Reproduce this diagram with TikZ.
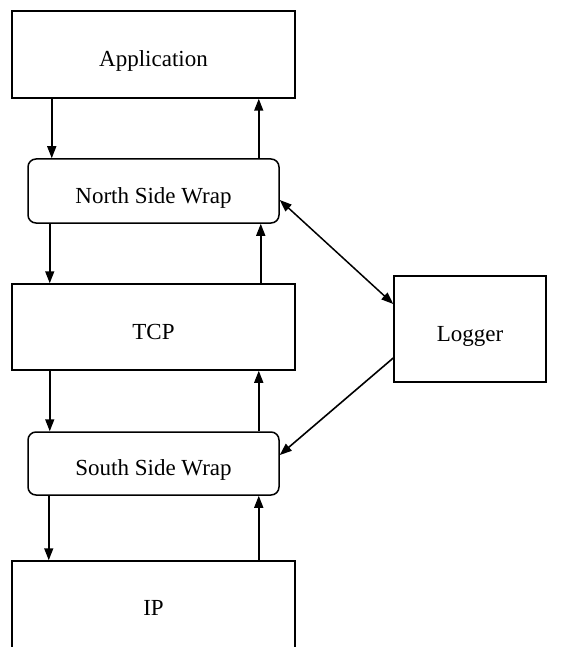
\documentclass[tikz,border=0pt]{standalone}
\usepackage{fontspec}
\setmainfont{Liberation Serif}
\usetikzlibrary{arrows.meta}
\begin{document}
\begin{tikzpicture}[x=1pt,y=-1pt,
  lbl/.style={inner sep=0pt, text height=24pt, text depth=0pt,
    font=\fontsize{23}{27}\selectfont},
  layer/.style={lbl, draw, line width=1.5pt, minimum width=283pt},
  wrapbox/.style={lbl, draw, line width=1.5pt, rounded corners=8pt, minimum width=251pt},
  arr/.style={line width=1.6pt, -{Triangle[length=12pt,width=9pt]}},
  darr/.style={line width=1.5pt, {Triangle[length=12pt,width=9pt]}-{Triangle[length=12pt,width=9pt]}}]
\useasboundingbox (0,0) rectangle (561,647);
\clip (0,0) rectangle (561,647);

% protocol stack
\node[layer, minimum height=87pt] (app) at (153.5,54.5) {Application};
\node[wrapbox, minimum height=64pt] (nsw) at (153.5,191) {North Side Wrap};
\node[layer, minimum height=86pt] (tcp) at (153.5,327) {TCP};
\node[wrapbox, minimum height=63pt] (ssw) at (153.5,463.5) {South Side Wrap};
% the IP layer runs past the lower edge of the page
\node[layer, minimum height=92pt, text height=17pt] (ip) at (153.5,607) {IP};

% logger
\node[lbl, draw, line width=1.5pt, minimum width=152pt, minimum height=106pt] (log) at (470,329) {Logger};

% downward path
\draw[arr] ([xshift=40.5pt]app.south west) -- ([xshift=24.5pt]nsw.north west);
\draw[arr] ([xshift=22.5pt]nsw.south west) -- ([xshift=38.5pt]tcp.north west);
\draw[arr] ([xshift=38.5pt]tcp.south west) -- ([xshift=22.5pt]ssw.north west);
\draw[arr] ([xshift=21.5pt]ssw.south west) -- ([xshift=37.5pt]ip.north west);

% upward path
\draw[arr] ([xshift=-21pt]nsw.north east) -- ([xshift=-37pt]app.south east);
\draw[arr] ([xshift=-35pt]tcp.north east) -- ([xshift=-19pt]nsw.south east);
\draw[arr] ([xshift=-21pt]ssw.north east) -- ([xshift=-37pt]tcp.south east);
\draw[arr] ([xshift=-37pt]ip.north east) -- ([xshift=-21pt]ssw.south east);

% logger links
\draw[darr] ([yshift=-9pt]nsw.east) -- ([yshift=25pt]log.west);
\draw[arr] ([yshift=-29pt]log.west) -- ([yshift=8.5pt]ssw.east);
\end{tikzpicture}
\end{document}
